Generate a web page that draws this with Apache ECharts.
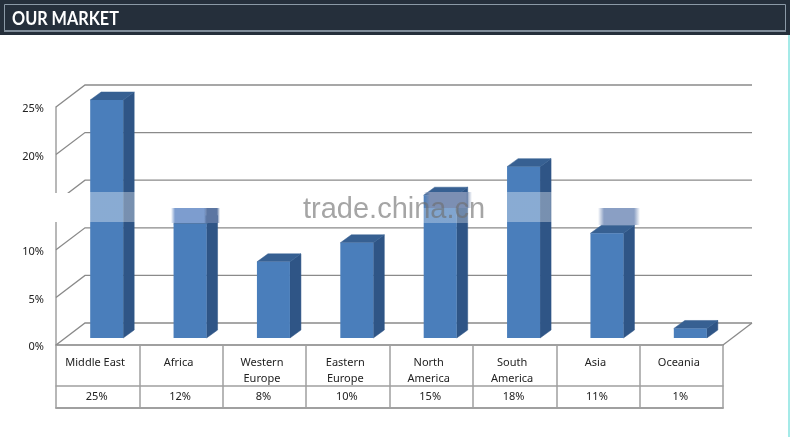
<!DOCTYPE html>
<html lang="en">
<head>
<meta charset="UTF-8">
<title>Our Market</title>
<script src="https://cdn.jsdelivr.net/npm/echarts@6/dist/echarts.min.js"></script>
<style>
html, body { margin: 0; padding: 0; background: #fff; }
#main { width: 790px; height: 437px; }
</style>
</head>
<body>
<div id="main"></div>
<script>
var categories = ['Middle East', 'Africa', 'Western\nEurope', 'Eastern\nEurope', 'North\nAmerica', 'South\nAmerica', 'Asia', 'Oceania'];
var shares = [25, 12, 8, 10, 15, 18, 11, 1];
var yTicks = [0, 5, 10, 15, 20, 25];
var hiddenYLabels = [15]; // rubbed out by the watermark in the reference

var font = '"Noto Sans", sans-serif';
var wallDx = 29, wallDy = -22;   // depth of the chart floor
var barDx = 9, barDy = -7;       // where the bar front sits on the floor
var sideDx = 11, sideDy = -8;    // depth of a bar
var barWidth = 33;
var gridColor = '#8a8a8a', tableColor = '#a0a0a0';

var chart = echarts.init(document.getElementById('main'));

function gridItem(params, api) {
    var rect = params.coordSys;
    var y = api.coord([0, api.value(0)])[1];
    var left = rect.x, right = rect.x + rect.width;
    var children = [{
        type: 'polyline',
        shape: { points: [[left, y], [left + wallDx, y + wallDy], [right + wallDx, y + wallDy]] },
        style: { stroke: gridColor, lineWidth: 1.3, fill: null }
    }];
    if (api.value(0) === 0) {
        children.push({
            type: 'line',
            shape: { x1: right, y1: y, x2: right + wallDx, y2: y + wallDy },
            style: { stroke: gridColor, lineWidth: 1.3 }
        });
    }
    return { type: 'group', children: children };
}

function barItem(params, api) {
    var top = api.coord([api.value(0), api.value(1)]);
    var bottom = api.coord([api.value(0), 0]);
    var x0 = top[0] - barWidth / 2 + barDx, x1 = x0 + barWidth;
    var yt = top[1] + barDy, yb = bottom[1] + barDy;
    return {
        type: 'group',
        children: [
            { type: 'polygon', shape: { points: [[x1, yt], [x1 + sideDx, yt + sideDy], [x1 + sideDx, yb + sideDy], [x1, yb]] }, style: { fill: '#2f5586', stroke: '#2f5586', lineWidth: 0.5 } },
            { type: 'polygon', shape: { points: [[x0, yt], [x0 + sideDx, yt + sideDy], [x1 + sideDx, yt + sideDy], [x1, yt]] }, style: { fill: '#376092', stroke: '#376092', lineWidth: 0.5 } },
            { type: 'rect', shape: { x: x0, y: yt, width: barWidth, height: yb - yt }, style: { fill: '#4a7ebb' } }
        ]
    };
}

// soft sided watermark patch, colour fades out at the left and right edge
function smear(x, y, w, h, rgb, alpha, fade) {
    var f = (fade || 6) / w;
    return {
        type: 'rect', z: 100,
        shape: { x: x, y: y, width: w, height: h },
        style: {
            fill: new echarts.graphic.LinearGradient(0, 0, 1, 0, [
                { offset: 0, color: 'rgba(' + rgb + ',0)' },
                { offset: f, color: 'rgba(' + rgb + ',' + alpha + ')' },
                { offset: 1 - f, color: 'rgba(' + rgb + ',' + alpha + ')' },
                { offset: 1, color: 'rgba(' + rgb + ',0)' }
            ])
        }
    };
}

var option = {
    animation: false,
    backgroundColor: '#fff',
    grid: { left: 56, right: 67, top: 107, height: 238 },
    xAxis: [
        {
            type: 'category', data: categories, position: 'bottom',
            axisLine: { lineStyle: { color: tableColor, width: 2 } },
            axisTick: { show: true, length: 63, alignWithLabel: false, lineStyle: { color: tableColor, width: 1.5 } },
            axisLabel: { margin: 10, color: '#222', fontFamily: font, fontSize: 11, lineHeight: 16, interval: 0, verticalAlign: 'top', padding: [0, 5, 0, 0] }
        },
        {
            type: 'category', position: 'bottom', offset: 41,
            data: shares.map(function (v) { return v + '%'; }),
            axisLine: { lineStyle: { color: tableColor, width: 1.5 } },
            axisTick: { show: false },
            axisLabel: { margin: 5, color: '#222', fontFamily: font, fontSize: 11, interval: 0, padding: [0, 2, 0, 0] }
        },
        {
            type: 'category', position: 'bottom', offset: 63, data: categories,
            axisLine: { lineStyle: { color: tableColor, width: 2 } },
            axisTick: { show: false },
            axisLabel: { show: false }
        }
    ],
    yAxis: {
        type: 'value', min: 0, max: 25, interval: 5,
        axisLine: { show: true, lineStyle: { color: tableColor, width: 1.5 } },
        axisTick: { show: false },
        splitLine: { show: false },
        axisLabel: {
            margin: 12, color: '#222', fontFamily: font, fontSize: 11, verticalAlign: 'top', lineHeight: 4,
            formatter: function (v) { return hiddenYLabels.indexOf(v) >= 0 ? '' : v + '%'; }
        }
    },
    series: [
        {
            type: 'custom', coordinateSystem: 'cartesian2d', clip: false, z: 1,
            renderItem: gridItem,
            encode: { y: 0 },
            data: yTicks.map(function (v) { return [v]; })
        },
        {
            type: 'custom', coordinateSystem: 'cartesian2d', clip: false, z: 2,
            renderItem: barItem,
            encode: { x: 0, y: 1 },
            data: shares.map(function (v, i) { return [i, v]; })
        }
    ],
    graphic: [
        // header band
        { type: 'rect', z: 90, shape: { x: 0, y: 0, width: 790, height: 35 }, style: { fill: '#252f3b' } },
        { type: 'rect', z: 91, shape: { x: 4.5, y: 4.5, width: 781, height: 26.5 }, style: { fill: null, stroke: '#8b99a6', lineWidth: 1 } },
        { type: 'rect', z: 91, shape: { x: 4, y: 30, width: 782, height: 2 }, style: { fill: '#7f8c99' } },
        { type: 'text', z: 92, x: 12, y: 19, scaleX: 0.855, style: { text: 'OUR MARKET', fill: '#fff', font: '700 19px Lato, sans-serif', verticalAlign: 'middle' } },
        // light line down the right edge
        { type: 'rect', z: 90, shape: { x: 788, y: 35, width: 2, height: 402 }, style: { fill: '#a5eae8' } },
        // watermark patches
        { type: 'rect', z: 99, shape: { x: 0, y: 193, width: 85, height: 29 }, style: { fill: '#fff' } },
        smear(82, 192, 58, 30, '255,255,255', 0.35),
        smear(171, 208, 38, 15, '125,157,207', 1, 4),
        smear(204, 208, 16, 15, '92,118,162', 1, 3),
        smear(424, 192, 48, 16, '124,143,179', 1),
        smear(419, 208, 54, 15, '255,255,255', 0.3),
        smear(502, 192, 54, 30, '255,255,255', 0.35),
        smear(598, 208, 42, 17, '138,159,196', 1),
        { type: 'text', z: 110, x: 303, y: 210, style: { text: 'trade.china.cn', fill: 'rgba(110,110,110,0.62)', font: '29px "Liberation Sans", sans-serif', verticalAlign: 'middle' } }
    ]
};

chart.setOption(option);
</script>
</body>
</html>
